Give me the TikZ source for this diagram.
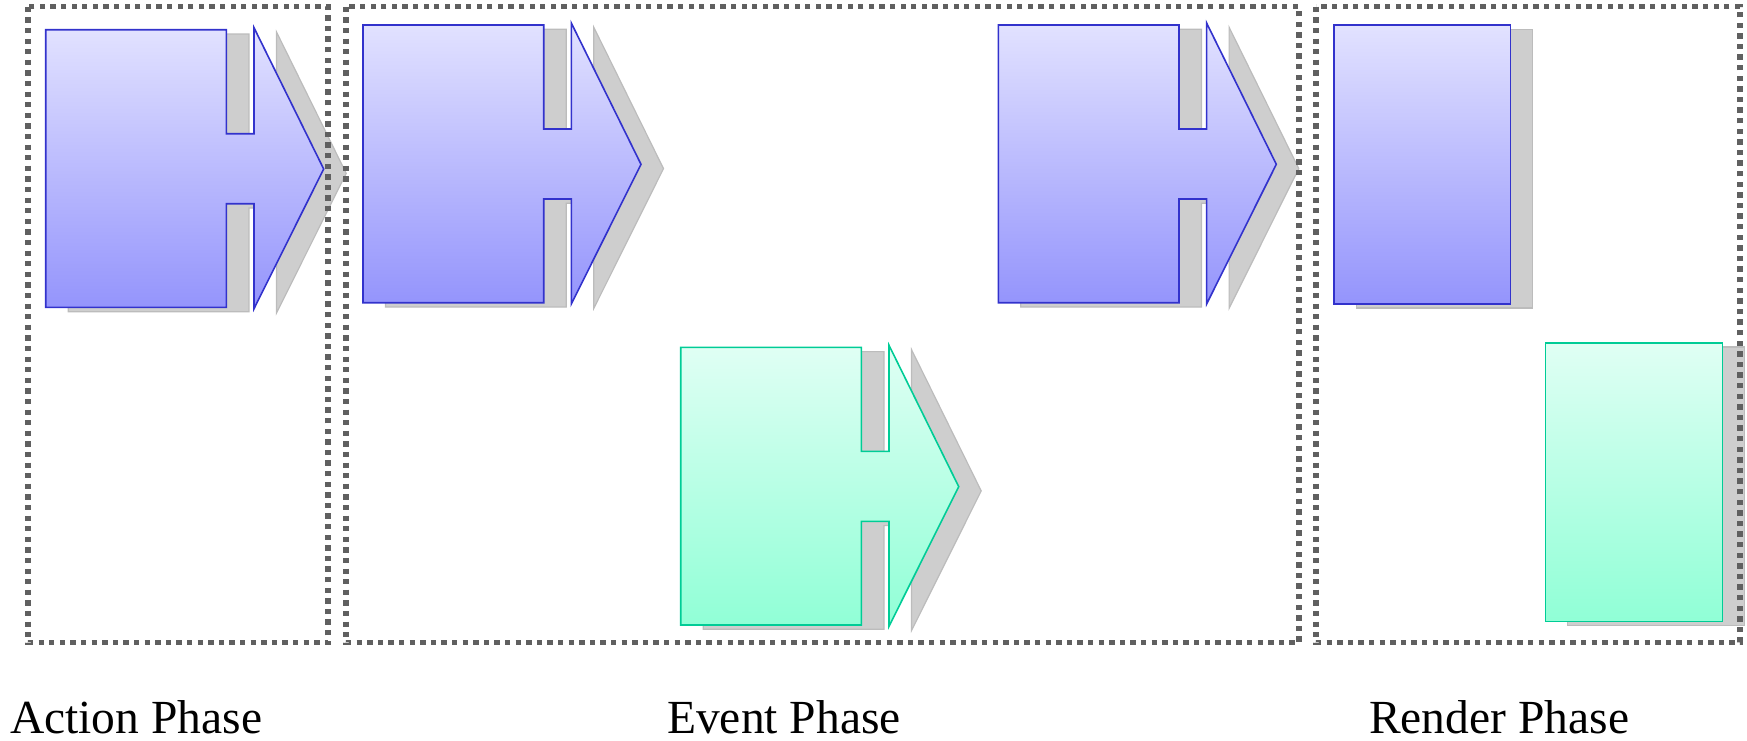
\documentclass[tikz,border=0pt]{standalone}
\usepackage{fontspec}
\setmainfont{Liberation Serif}
\definecolor{bluetop}{RGB}{226,226,255}
\definecolor{bluebot}{RGB}{148,148,252}
\definecolor{blueline}{RGB}{50,50,204}
\definecolor{greentop}{RGB}{224,255,244}
\definecolor{greenbot}{RGB}{144,255,214}
\definecolor{greenline}{RGB}{0,204,150}
\definecolor{shadowfill}{RGB}{206,206,206}
\definecolor{shadowline}{RGB}{188,188,188}
\definecolor{dotgray}{RGB}{96,96,96}
\tikzset{
  shadowst/.style={fill=shadowfill, draw=shadowline, line width=1.2pt},
  bluest/.style={top color=bluetop, bottom color=bluebot, draw=blueline, line width=1.6pt},
  greenst/.style={top color=greentop, bottom color=greenbot, draw=greenline, line width=1.6pt},
  phasebox/.style={draw=dotgray, line width=5.3pt, dash pattern=on 5.3pt off 5.3pt},
  phaselabel/.style={anchor=base west, inner sep=0pt, font=\fontsize{47.5}{56}\selectfont},
}
\newcommand\phasearrow[3]{%
  \path[shadowst, shift={(#1+22.5,#2+4.3)}] (0,0) -- (180.7,0) -- (180.7,104) -- (208.3,104) -- (208.3,-2) -- (278,139.3) -- (208.3,279) -- (208.3,174) -- (180.7,174) -- (180.7,277.7) -- (0,277.7) -- cycle;
  \path[#3, shift={(#1,#2)}] (0,0) -- (180.7,0) -- (180.7,104) -- (208.3,104) -- (208.3,-2) -- (278,139.3) -- (208.3,279) -- (208.3,174) -- (180.7,174) -- (180.7,277.7) -- (0,277.7) -- cycle;
}
\newcommand\phaserect[5]{%
  \path[shadowst] (#1+22.5,#2+4.3) rectangle ++(#3,#4);
  \path[#5] (#1,#2) rectangle ++(#3,#4);
}
\begin{document}
\begin{tikzpicture}[x=1pt,y=-1pt]
\useasboundingbox (0,0) rectangle (1747,740);
% action phase
\phasearrow{45.7}{29.7}{bluest}
% event phase
\phasearrow{363}{25}{bluest}
\phasearrow{998.3}{25}{bluest}
\phasearrow{680.7}{347.3}{greenst}
% render phase
\phaserect{1333.7}{25}{176.6}{278.7}{bluest}
\phaserect{1545.3}{342.7}{177}{278.6}{greenst}
% phase boxes
\draw[phasebox] (28,6.7) rectangle (328,642.7);
\draw[phasebox] (346,6.7) rectangle (1299,642.7);
\draw[phasebox] (1316,6.7) rectangle (1740,642.7);
% labels
\node[phaselabel] (actionlbl) at (10,733) {Action Phase};
\node[phaselabel] (eventlbl) at (667,733) {Event Phase};
\node[phaselabel] (renderlbl) at (1369,733) {Render Phase};
\end{tikzpicture}
\end{document}
